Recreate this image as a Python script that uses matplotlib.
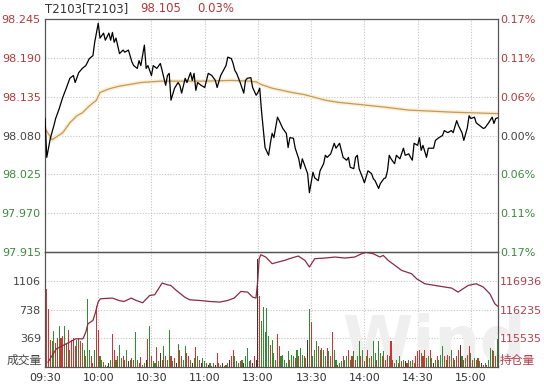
import matplotlib
matplotlib.use("Agg")
import matplotlib.pyplot as plt
import matplotlib.patheffects as pe
import numpy as np

plt.rcParams["font.family"] = ["DejaVu Sans", "Noto Sans CJK SC"]

# ---- data (minutes since 09:30, trading time only; 13:00 = minute 120) ----
price_t = [0, 1, 3, 5, 6, 8, 10, 12, 14, 16, 17, 19, 21, 23, 25, 27, 28, 30, 31, 33,
           34, 36, 37, 38, 39, 40, 42, 44, 45, 47, 49, 50, 52, 53, 54, 56, 57, 58, 60, 61,
           63, 65, 66, 68, 69, 70, 71, 73, 75, 76, 77, 79, 80, 82, 83, 84, 85, 86, 88, 90,
           92, 94, 96, 97, 99, 102, 103, 105, 106, 107, 108, 110, 112, 113, 114, 116, 117, 119, 120, 121,
           122, 124, 126, 127, 128, 129, 131, 132, 134, 136, 137, 138, 140, 141, 143, 144, 145, 146, 148, 149,
           151, 152, 154, 155, 157, 158, 159, 161, 163, 164, 166, 167, 168, 170, 171, 172, 174, 175, 176, 177,
           179, 180, 182, 184, 185, 186, 188, 189, 191, 192, 193, 194, 195, 197, 198, 200, 202, 203, 205, 206,
           207, 208, 210, 211, 212, 213, 215, 216, 218, 219, 220, 222, 224, 225, 227, 229, 230, 232, 233, 235,
           236, 238, 239, 240, 242, 243, 245, 247, 248, 250, 252, 253, 254, 255]
price_v = [98.104, 98.049, 98.076, 98.094, 98.104, 98.118, 98.134, 98.147, 98.161, 98.165,
           98.155, 98.169, 98.175, 98.179, 98.189, 98.193, 98.212, 98.239, 98.218, 98.225,
           98.215, 98.225, 98.215, 98.226, 98.212, 98.218, 98.196, 98.201, 98.198, 98.201,
           98.184, 98.179, 98.175, 98.186, 98.179, 98.208, 98.175, 98.179, 98.165, 98.179,
           98.175, 98.182, 98.172, 98.151, 98.165, 98.168, 98.130, 98.147, 98.155, 98.151,
           98.140, 98.161, 98.155, 98.169, 98.158, 98.168, 98.144, 98.155, 98.151, 98.148,
           98.168, 98.165, 98.158, 98.148, 98.165, 98.179, 98.191, 98.189, 98.182, 98.172,
           98.168, 98.155, 98.140, 98.158, 98.161, 98.162, 98.148, 98.137, 98.141, 98.147,
           98.115, 98.063, 98.052, 98.069, 98.083, 98.077, 98.106, 98.101, 98.090, 98.083,
           98.063, 98.077, 98.076, 98.062, 98.047, 98.033, 98.047, 98.040, 98.026, 97.999,
           98.028, 98.020, 98.016, 98.030, 98.040, 98.052, 98.049, 98.054, 98.069, 98.062,
           98.069, 98.059, 98.049, 98.045, 98.049, 98.035, 98.033, 98.049, 98.052, 98.033,
           98.020, 98.013, 98.030, 98.026, 98.019, 98.016, 98.005, 98.012, 98.019, 98.020,
           98.030, 98.052, 98.047, 98.040, 98.052, 98.047, 98.062, 98.052, 98.054, 98.049,
           98.045, 98.069, 98.066, 98.077, 98.059, 98.066, 98.049, 98.062, 98.062, 98.062,
           98.073, 98.077, 98.080, 98.087, 98.084, 98.087, 98.084, 98.101, 98.094, 98.084,
           98.073, 98.091, 98.108, 98.104, 98.106, 98.098, 98.094, 98.090, 98.091, 98.098,
           98.106, 98.097, 98.104, 98.105]

avg_t = [0, 4, 10, 14, 18, 21, 25, 29, 31, 36, 42, 47, 54, 65, 90, 105, 115, 119, 122, 128,
         139, 146, 152, 158, 165, 177, 192, 205, 230, 255]
avg_v = [98.090, 98.074, 98.084, 98.098, 98.108, 98.112, 98.122, 98.130, 98.141, 98.146,
         98.150, 98.152, 98.155, 98.157, 98.157, 98.158, 98.157, 98.156, 98.152, 98.147,
         98.141, 98.138, 98.134, 98.130, 98.127, 98.124, 98.120, 98.116, 98.113, 98.111]

oi_t = [1.7, 6.4, 10, 13.9, 17.2, 21.4, 23, 24.2, 27, 28.5, 29.9, 31.2, 38, 41.6, 44.5, 48.6,
        51.4, 55, 59, 61.8, 66, 69, 70.9, 74, 78.7, 81.5, 87, 92.8, 98.5, 103, 106.6, 110.4,
        114.2, 117, 118.9, 119.8, 120.7, 121.6, 124.4, 128, 131.4, 135, 138.9, 142.7, 146.5, 149,
        152, 157.7, 163.4, 169, 174.6, 178.4, 181, 185, 188.7, 190.6, 193.4, 197.2, 201, 206.6,
        209.4, 214, 219.7, 225.4, 229.2, 232.8, 235.6, 238.5, 243, 247, 250.7, 253.5, 255]
oi_v = [114952, 115277, 115358, 115440, 115521, 115521, 115684, 115887, 115968, 116172,
        116416, 116497, 116514, 116456, 116431, 116514, 116456, 116399, 116578, 116594,
        116879, 116838, 116822, 116700, 116537, 116472, 116456, 116431, 116416, 116456,
        116514, 116676, 116659, 116537, 116514, 116904, 117473, 117570, 117514, 117351,
        117392, 117432, 117489, 117538, 117432, 117270, 117473, 117489, 117514, 117489,
        117514, 117595, 117625, 117595, 117514, 117554, 117432, 117310, 117188, 117107,
        116985, 116863, 116822, 116782, 116757, 116659, 116741, 116822, 116863, 116782,
        116619, 116375, 116318]

vol_am = [1274, 995, 738, 352, 330, 459, 309, 373, 523, 373,
          395, 532, 309, 480, 223, 352, 373, 266, 352, 373,
          330, 309, 223, 137, 866, 223, 137, 51, 223, 781,
          480, 137, 94, 60, 30, 17, 51, 94, 429, 223,
          94, 137, 287, 116, 137, 94, 223, 73, 94, 116,
          94, 446, 94, 51, 124, 30, 51, 94, 360, 532,
          137, 73, 51, 257, 73, 180, 94, 266, 137, 94,
          472, 137, 73, 116, 51, 300, 223, 137, 94, 266,
          180, 137, 94, 51, 116, 257, 137, 94, 51, 116,
          73, 51, 30, 51, 17, 51, 30, 180, 51, 30,
          51, 17, 30, 51, 94, 137, 223, 137, 73, 51,
          73, 94, 51, 137, 245, 73, 94, 51, 137, 94]
vol_pm = [1380, 905, 585, 775, 455, 760, 395, 287, 352, 180,
          94, 429, 266, 137, 159, 94, 51, 202, 94, 159,
          137, 116, 223, 137, 245, 159, 137, 116, 352, 738,
          575, 137, 223, 330, 266, 223, 245, 223, 137, 245,
          202, 137, 446, 223, 94, 30, 51, 73, 137, 94,
          137, 223, 94, 137, 202, 94, 137, 330, 137, 223,
          73, 137, 223, 116, 137, 330, 180, 94, 330, 180,
          137, 202, 94, 159, 137, 330, 94, 51, 94, 51,
          137, 73, 94, 73, 51, 94, 73, 94, 51, 137,
          202, 223, 180, 137, 223, 116, 137, 223, 116, 51,
          94, 137, 94, 159, 275, 137, 94, 159, 137, 223,
          116, 94, 137, 223, 287, 137, 94, 116, 159, 275,
          180, 94, 116, 94, 116, 73, 51, 30, 51, 30,
          94, 245, 223, 202, 137, 360]
# per-minute direction: u = up, d = down, n = unchanged
vol_dir = ("uuuudduudu" "uduuduuudu" "uddudduudu" "udduddnduu" "dudduudndu" "udduuddnud"
           "uddudnudud" "dudunduudd" "uudndudund" "dundudnuud" "ndudnuuddu" "udndddunun"
           "nudddddudd" "duudddddud" "dududdudnd" "udddududdu" "duudduddud" "dudududdud"
           "udududdudd" "uduuduuddu" "dudnuddudu" "uuduuddudn" "duddduduud" "uduunduduu"
           "duddudnudu" "ddudud")

pre_close = 98.080
price_ticks = [97.915, 97.970, 98.025, 98.080, 98.135, 98.190, 98.245]
pct_labels = ["0.17%", "0.11%", "0.06%", "0.00%", "0.06%", "0.11%", "0.17%"]
vol_ticks = [368.7, 737.3, 1106.0]
vol_labels = ["369", "738", "1106"]
oi_ticks = [115535, 116235, 116936]
time_ticks = [0, 30, 60, 90, 120, 150, 180, 210, 240]
time_labels = ["09:30", "10:00", "10:30", "11:00", "13:00", "13:30", "14:00", "14:30", "15:00"]

RED = "#b03a3a"
GREEN = "#3d8a3d"
GRAY = "#444444"
OI_RED = "#b0404c"

W, H = 544, 387


def box(x0, y0, x1, y1):
    return [x0 / W, 1 - y1 / H, (x1 - x0) / W, (y1 - y0) / H]


fig = plt.figure(figsize=(W / 100, H / 100), dpi=100)
ax1 = fig.add_axes(box(45, 19, 497.5, 252))
ax2 = fig.add_axes(box(45, 252, 497.5, 367))
for ax in (ax1, ax2):
    ax.set_xlim(0, 255)
    ax.set_facecolor("none")
    for s in ax.spines.values():
        s.set_color("#555555")
        s.set_linewidth(0.9)
    for t in time_ticks[1:]:
        ax.axvline(t, color="#c4c4c4", lw=0.8, ls=(0, (1, 1.5)), zorder=0)

# watermark, drawn behind everything in the lower panel
ax2.text(342 / W, 1 - 362 / H, "Wind", transform=fig.transFigure, fontsize=46,
         fontweight="bold", color="#efefef", ha="left", va="baseline", zorder=0.5,
         clip_on=False)

# ---- price panel ----
ax1.set_ylim(price_ticks[0], price_ticks[-1])
for y in price_ticks[1:-1]:
    ax1.axhline(y, color="#c4c4c4", lw=0.8, ls=(0, (1, 1.5)), zorder=0)
ax1.plot(avg_t, avg_v, color="#c49a55", lw=0.9, zorder=2,
         path_effects=[pe.Stroke(linewidth=3, foreground="#fbefd8"), pe.Normal()])
ax1.plot(price_t, price_v, color="black", lw=0.9, zorder=3)
ax1.set_xticks([])
ax1.set_yticks(price_ticks)
ax1.set_yticklabels([f"{v:.3f}" for v in price_ticks])
ax1.tick_params(axis="y", length=0, pad=3, labelsize=8)
for lab, v in zip(ax1.get_yticklabels(), price_ticks):
    lab.set_color(RED if v > pre_close + 1e-9 else GREEN if v < pre_close - 1e-9 else GRAY)

ax1r = ax1.twinx()
ax1r.set_ylim(ax1.get_ylim())
ax1r.set_yticks(price_ticks)
ax1r.set_yticklabels(pct_labels)
ax1r.tick_params(axis="y", length=0, pad=2, labelsize=8)
for s in ax1r.spines.values():
    s.set_visible(False)
for lab, v in zip(ax1r.get_yticklabels(), price_ticks):
    lab.set_color(RED if v > pre_close + 1e-9 else GREEN if v < pre_close - 1e-9 else GRAY)

# ---- volume / open interest panel ----
vol = vol_am + vol_pm
mins = np.arange(len(vol))
dirs = (vol_dir + "n" * len(vol))[:len(vol)]
cmap = {"u": "#d83030", "d": "#2f8f2f", "n": "#4a3030"}
ax2.bar(mins, vol, width=0.6, color=[cmap[c] for c in dirs], linewidth=0, zorder=2)
ax2.set_ylim(0, 1474.7)
for y in vol_ticks:
    ax2.axhline(y, color="#c4c4c4", lw=0.8, ls=(0, (1, 1.5)), zorder=0)
ax2.set_yticks(vol_ticks)
ax2.set_yticklabels(vol_labels)
ax2.tick_params(axis="y", length=0, pad=3, labelsize=8, labelcolor=GRAY)
ax2.set_xticks(time_ticks)
ax2.set_xticklabels(time_labels)
ax2.tick_params(axis="x", length=0, pad=4, labelsize=8, labelcolor="#333333")
ax2.text(-0.008, 0.0, "成交量", transform=ax2.transAxes, ha="right", va="bottom",
         fontsize=8.5, color=GRAY)

ax2r = ax2.twinx()
ax2r.set_ylim(114834.5, 117636.5)
ax2r.plot(oi_t, oi_v, color="#8a2a44", lw=0.9, zorder=3)
ax2r.set_yticks(oi_ticks)
ax2r.set_yticklabels([str(v) for v in oi_ticks])
ax2r.tick_params(axis="y", length=0, pad=2, labelsize=8, labelcolor=OI_RED)
for s in ax2r.spines.values():
    s.set_visible(False)
ax2r.text(1.005, 0.0, "持仓量", transform=ax2r.transAxes, ha="left", va="bottom",
          fontsize=8.5, color=OI_RED)

# ---- header ----
fig.text(45 / W, 1 - 9 / H, "T2103[T2103]", fontsize=8.5, color="#333333", va="center")
fig.text(140 / W, 1 - 9 / H, "98.105", fontsize=8.5, color=RED, va="center")
fig.text(197 / W, 1 - 9 / H, "0.03%", fontsize=8.5, color=RED, va="center")

fig.savefig("out.png", dpi=100)
